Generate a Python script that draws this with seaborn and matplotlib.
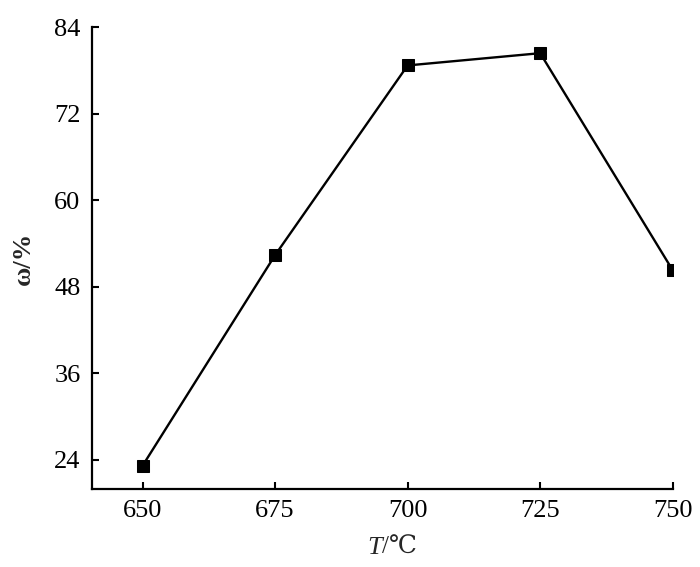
import pandas as pd
import seaborn as sns
import matplotlib
matplotlib.use("Agg")
import matplotlib.pyplot as plt

# Dane
temperature = [650, 675, 700, 725, 750]
omega = [23.2, 52.4, 78.7, 80.4, 50.3]
x_ticks = [650, 675, 700, 725, 750]
y_ticks = [24, 36, 48, 60, 72, 84]

data = pd.DataFrame({'T': temperature, 'omega': omega})

sns.set_style("ticks")
plt.rcParams['font.family'] = ['Liberation Serif', 'DejaVu Serif']

fig = plt.figure(figsize=(7, 5.67), dpi=100)
ax = fig.add_axes([0.131, 0.138, 0.83, 0.814])

sns.lineplot(data=data, x='T', y='omega', ax=ax, color='black', linewidth=1.7,
             marker='s', markersize=9, markeredgecolor='black', markerfacecolor='black')

ax.set_xlim(640.4, 750)
ax.set_ylim(20, 84)
ax.set_xticks(x_ticks)
ax.set_yticks(y_ticks)
ax.tick_params(direction='in', length=5, width=1.5, labelsize=19, pad=8,
               colors='black')

for s in ['top', 'right']:
    ax.spines[s].set_visible(False)
for s in ['left', 'bottom']:
    ax.spines[s].set_linewidth(1.6)
    ax.spines[s].set_color('black')

# Podpis osi X: kursywa T + zwykłe /℃
ax.set_xlabel('')
ax.text(0.5, -0.128, 'T', transform=ax.transAxes, fontsize=19, fontstyle='italic',
        ha='right', va='center')
ax.text(0.5, -0.128, '/℃', transform=ax.transAxes, fontsize=18,
        ha='left', va='center')

ax.set_ylabel('ω/%', fontsize=19, fontweight='bold', labelpad=14)

fig.savefig('out.png', dpi=100)
